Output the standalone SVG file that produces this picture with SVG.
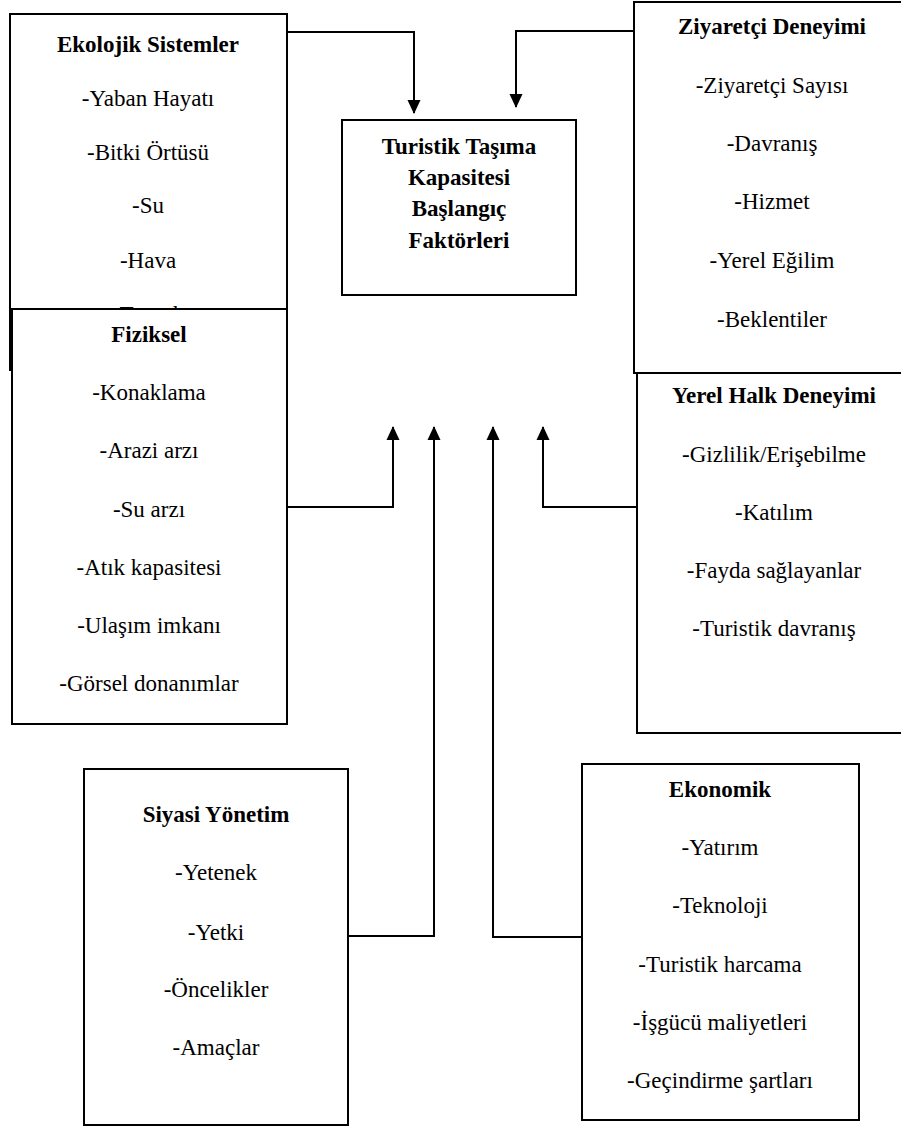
<svg xmlns="http://www.w3.org/2000/svg" width="901" height="1126" viewBox="0 0 901 1126">
<style>
.box{fill:#fff;stroke:#000;stroke-width:2}
text{font-family:"Liberation Serif","DejaVu Serif",serif;font-size:23px;fill:#000;text-anchor:middle}
.t{font-weight:bold}
.c{fill:none;stroke:#000;stroke-width:2}
</style>
<defs>
<marker id="ah" markerWidth="14" markerHeight="15" refX="14" refY="7" orient="auto" markerUnits="userSpaceOnUse" viewBox="0 0 15 14">
<path d="M0,0 L15,7 L0,14 Z" fill="#000"/>
</marker>
<clipPath id="ekoclip"><rect x="0" y="0" width="300" height="309"/></clipPath>
</defs>
<rect width="901" height="1126" fill="#fff"/>
<g id="ekolojik">
<rect class="box" x="10" y="14" width="277" height="356"/>
<text class="t" x="148" y="52">Ekolojik Sistemler</text>
<text x="148" y="106">-Yaban Hayatı</text>
<text x="148" y="160">-Bitki Örtüsü</text>
<text x="148" y="213">-Su</text>
<text x="148" y="268">-Hava</text>
<text x="148" y="322" clip-path="url(#ekoclip)">-Toprak</text>
</g>
<g id="fiziksel">
<rect class="box" x="12" y="309" width="275" height="415"/>
<text class="t" x="149" y="342">Fiziksel</text>
<text x="149" y="400">-Konaklama</text>
<text x="149" y="458">-Arazi arzı</text>
<text x="149" y="517">-Su arzı</text>
<text x="149" y="575">-Atık kapasitesi</text>
<text x="149" y="633">-Ulaşım imkanı</text>
<text x="149" y="691">-Görsel donanımlar</text>
</g>
<g id="merkez">
<rect class="box" x="342" y="120" width="234" height="175"/>
<text class="t" x="459" y="154">Turistik Taşıma</text>
<text class="t" x="459" y="185">Kapasitesi</text>
<text class="t" x="459" y="216">Başlangıç</text>
<text class="t" x="459" y="248">Faktörleri</text>
</g>
<g id="ziyaretci">
<rect class="box" x="634" y="2" width="280" height="371"/>
<text class="t" x="772" y="34">Ziyaretçi Deneyimi</text>
<text x="772" y="93">-Ziyaretçi Sayısı</text>
<text x="772" y="151">-Davranış</text>
<text x="772" y="209">-Hizmet</text>
<text x="772" y="268">-Yerel Eğilim</text>
<text x="772" y="327">-Beklentiler</text>
</g>
<g id="yerelhalk">
<rect class="box" x="637" y="373" width="280" height="360"/>
<text class="t" x="774" y="403">Yerel Halk Deneyimi</text>
<text x="774" y="462">-Gizlilik/Erişebilme</text>
<text x="774" y="520">-Katılım</text>
<text x="774" y="578">-Fayda sağlayanlar</text>
<text x="774" y="636">-Turistik davranış</text>
</g>
<g id="siyasi">
<rect class="box" x="84" y="769" width="264" height="356"/>
<text class="t" x="216" y="822">Siyasi Yönetim</text>
<text x="216" y="880">-Yetenek</text>
<text x="216" y="940">-Yetki</text>
<text x="216" y="997">-Öncelikler</text>
<text x="216" y="1055">-Amaçlar</text>
</g>
<g id="ekonomik">
<rect class="box" x="582" y="764" width="277" height="356"/>
<text class="t" x="720" y="797">Ekonomik</text>
<text x="720" y="855">-Yatırım</text>
<text x="720" y="913">-Teknoloji</text>
<text x="720" y="972">-Turistik harcama</text>
<text x="720" y="1030">-İşgücü maliyetleri</text>
<text x="720" y="1088">-Geçindirme şartları</text>
</g>
<g id="connectors">
<path class="c" d="M287,32 H414 V113" marker-end="url(#ah)"/>
<path class="c" d="M634,31 H516 V107" marker-end="url(#ah)"/>
<path class="c" d="M287,507 H393 V427" marker-end="url(#ah)"/>
<path class="c" d="M348,936 H434 V427" marker-end="url(#ah)"/>
<path class="c" d="M582,937 H493 V427" marker-end="url(#ah)"/>
<path class="c" d="M637,507 H543 V427" marker-end="url(#ah)"/>
</g>
</svg>
